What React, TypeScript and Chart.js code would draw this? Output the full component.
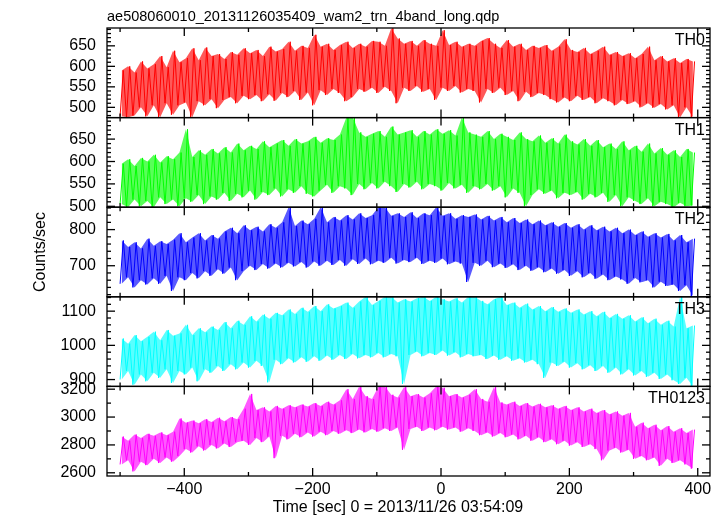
import React, { useEffect, useRef } from "react";
import { Chart, registerables } from "chart.js";

Chart.register(...registerables);

// ---- data (per 10 s bin, the low and high excursion of each light curve) ----
const binStart = -500;
const binWidth = 10;

const panelNames = ["TH0", "TH1", "TH2", "TH3", "TH0123"];

const th0Hi = [590,600,585,612,595,605,625,598,638,610,
  620,644,615,646,625,630,618,635,628,644,
  632,640,625,648,636,642,660,638,650,645,
  677,648,655,640,652,660,645,655,648,662,
  660,650,693,668,655,662,650,664,655,650,
  688,652,660,648,655,650,662,669,655,645,
  664,648,655,640,650,645,652,638,648,666,
  640,635,645,630,638,648,628,635,625,632,
  620,630,648,615,625,612,620,608,618,612];
const th0Lo = [478,476,480,500,478,505,476,510,482,505,
  512,476,515,505,520,498,518,525,510,528,
  520,530,515,532,516,535,525,540,518,536,
  505,542,530,545,535,515,525,545,538,548,
  535,550,540,510,548,540,552,538,545,518,
  548,540,552,536,545,540,512,545,535,548,
  530,540,515,538,525,535,530,520,512,524,
  515,528,518,525,510,522,515,505,518,508,
  515,500,510,499,508,495,505,475,500,476];

const th1Hi = [595,605,590,608,600,615,598,612,605,620,
  672,610,625,615,628,618,632,620,640,625,
  635,628,645,632,640,648,635,650,640,645,
  655,642,652,648,660,698,698,665,655,662,
  668,655,678,660,665,670,655,668,660,672,
  662,670,658,698,665,660,655,668,650,662,
  655,648,665,650,645,658,642,652,640,660,
  645,638,650,635,648,632,640,628,645,625,
  635,622,640,618,630,615,625,610,628,620];
const th1Lo = [505,498,515,500,512,498,520,505,515,500,
  518,510,525,505,522,515,530,512,528,520,
  535,515,532,525,540,522,538,530,545,528,
  522,535,548,530,545,540,525,550,538,552,
  540,555,545,532,550,542,555,538,550,545,
  535,552,540,548,530,545,538,550,535,545,
  520,540,530,500,525,538,528,535,518,530,
  525,532,515,528,520,530,510,525,500,520,
  512,505,518,500,510,505,498,508,500,502];

const th2Hi = [770,752,765,748,775,755,768,760,772,790,
  765,778,790,770,785,775,795,805,790,812,
  798,808,795,815,805,820,862,810,825,815,
  830,862,820,835,825,840,828,845,832,840,
  862,862,838,845,835,848,832,845,840,862,
  838,845,830,840,835,842,828,838,825,835,
  820,832,818,828,815,825,812,820,808,818,
  805,815,800,812,798,808,795,805,790,800,
  785,795,780,790,778,788,770,785,765,775];
const th2Lo = [650,668,640,660,648,665,650,672,630,668,
  660,680,665,685,672,690,678,695,660,685,
  700,688,705,692,706,695,708,698,710,695,
  712,700,714,702,716,700,718,705,720,704,
  714,708,722,706,716,710,722,705,714,708,
  720,704,712,706,655,708,700,714,696,706,
  694,704,688,700,686,696,682,692,678,688,
  672,685,668,680,664,676,660,670,662,650,
  666,654,660,640,656,644,648,630,646,616];

const th3Hi = [1020,1005,1030,1012,1025,1040,1015,1045,1028,1035,
  1060,1030,1050,1038,1055,1045,1068,1050,1072,1060,
  1085,1070,1090,1078,1095,1088,1105,1092,1110,1098,
  1115,1100,1120,1108,1115,1125,1110,1128,1142,1118,
  1130,1142,1142,1125,1135,1128,1138,1142,1130,1142,
  1135,1128,1138,1125,1142,1142,1130,1120,1135,1142,
  1118,1125,1110,1122,1105,1115,1100,1112,1098,1108,
  1095,1105,1090,1100,1085,1098,1080,1092,1078,1088,
  1070,1082,1065,1078,1060,1072,1055,1142,1050,1058];
const th3Lo = [900,925,885,915,895,920,905,930,890,925,
  915,935,895,930,920,940,925,945,930,950,
  935,955,940,892,958,945,962,950,965,952,
  968,955,970,958,972,960,975,962,972,965,
  978,965,975,968,887,972,982,968,978,972,
  985,970,980,965,975,968,972,960,970,958,
  968,955,962,950,958,945,905,950,940,952,
  935,948,930,942,925,940,920,935,915,930,
  912,925,908,920,902,915,898,887,905,880];

const th0123Hi = [2860,2830,2875,2850,2880,2865,2890,2870,2895,2990,
  2960,2975,2955,2985,2965,2995,2970,3000,2985,3060,
  3166,3050,3070,3040,3080,3060,3085,3070,3090,3075,
  3100,3080,3110,3090,3120,3200,3130,3220,3150,3130,
  3220,3220,3160,3140,3215,3150,3165,3140,3170,3220,
  3210,3150,3165,3140,3160,3200,3130,3110,3215,3105,
  3090,3110,3080,3100,3075,3095,3070,3085,3060,3080,
  3050,3070,3040,3060,3030,3050,3020,3040,3010,3030,
  2930,2960,2920,2945,2905,2935,2895,2920,2885,2910];
const th0123Lo = [2660,2690,2610,2680,2655,2700,2670,2710,2680,2720,
  2770,2745,2790,2760,2800,2775,2810,2785,2820,2830,
  2800,2850,2820,2860,2705,2865,2840,2880,2855,2890,
  2860,2895,2870,2900,2880,2905,2885,2910,2890,2915,
  2895,2920,2900,2925,2765,2915,2930,2900,2925,2905,
  2930,2910,2925,2895,2920,2900,2870,2890,2860,2885,
  2855,2875,2840,2865,2830,2855,2820,2840,2805,2830,
  2795,2820,2785,2805,2770,2690,2760,2780,2745,2765,
  2700,2720,2690,2710,2650,2700,2670,2690,2660,2630];

const panelHi = [th0Hi, th1Hi, th2Hi, th3Hi, th0123Hi];
const panelLo = [th0Lo, th1Lo, th2Lo, th3Lo, th0123Lo];

const panelMin = [475, 498, 614, 880, 2577];
const panelMax = [693.5, 698, 862, 1142, 3220];
const yTickValues = [
  [500, 550, 600, 650],
  [500, 550, 600, 650],
  [700, 800],
  [900, 1000, 1100],
  [2600, 2800, 3000, 3200],
];
const yMinorStep = [10, 10, 20, 20, 100];
const yMajorStep = [50, 50, 100, 100, 200];

const xTickValues = [-400, -200, 0, 200, 400];
const xMinorStep = 100;
const xMin = -520.4;
const xMax = 419.1;

const lineColors = ["#ff0000", "#00ff00", "#0000ff", "#00ffff", "#ff00ff"];
const bandColors = [
  "rgba(255,0,0,0.65)",
  "rgba(0,255,0,0.65)",
  "rgba(0,0,255,0.65)",
  "rgba(0,255,255,0.65)",
  "rgba(255,0,255,0.65)",
];

const titleText = "ae508060010_20131126035409_wam2_trn_4band_long.qdp";
const yTitle = "Counts/sec";
const xTitle = "Time [sec] 0 = 2013/11/26 03:54:09";

const FONT = "'Liberation Sans', Arial, Helvetica, sans-serif";
const axisId = (k: number) => "p" + k;

const decorPlugin = {
  id: "decor",
  afterDatasetsDraw(chart: any) {
    const ctx = chart.ctx;
    const ca = chart.chartArea;
    const xs = chart.scales.x;
    ctx.save();
    ctx.strokeStyle = "#000";
    ctx.lineWidth = 1.3;
    const seg = (x1: number, y1: number, x2: number, y2: number) => {
      ctx.beginPath();
      ctx.moveTo(x1, y1);
      ctx.lineTo(x2, y2);
      ctx.stroke();
    };
    for (let k = 0; k < panelNames.length; k++) {
      const s = chart.scales[axisId(k)];
      const top = s.top;
      const bottom = s.bottom;
      ctx.strokeRect(ca.left, top, ca.right - ca.left, bottom - top);
      const step = yMinorStep[k];
      const first = Math.ceil(panelMin[k] / step);
      const last = Math.floor(panelMax[k] / step);
      for (let n = first; n <= last; n++) {
        const v = n * step;
        const y = s.getPixelForValue(v);
        const len = v % yMajorStep[k] === 0 ? 8 : 4;
        seg(ca.left, y, ca.left + len, y);
        seg(ca.right, y, ca.right - len, y);
      }
      for (let v = -500; v <= 400; v += xMinorStep) {
        const x = xs.getPixelForValue(v);
        const len = v % 200 === 0 ? 8 : 4;
        seg(x, top, x, top + len);
        seg(x, bottom, x, bottom - len);
      }
      ctx.fillStyle = "#000";
      ctx.font = "16px " + FONT;
      ctx.textAlign = "right";
      ctx.textBaseline = "alphabetic";
      ctx.fillText(panelNames[k], 705, top + 17);
    }
    // title
    ctx.fillStyle = "#000";
    ctx.font = "14.5px " + FONT;
    ctx.textAlign = "left";
    ctx.textBaseline = "alphabetic";
    ctx.fillText(titleText, 107, 21);
    // x title
    ctx.font = "16px " + FONT;
    ctx.textAlign = "center";
    ctx.fillText(xTitle, 398, 512);
    // y title
    ctx.save();
    ctx.translate(45, (ca.top + ca.bottom) / 2);
    ctx.rotate(-Math.PI / 2);
    ctx.textAlign = "center";
    ctx.textBaseline = "alphabetic";
    ctx.fillText(yTitle, 0, 0);
    ctx.restore();
    ctx.restore();
  },
};

export default function App() {
  const ref = useRef<HTMLCanvasElement | null>(null);

  useEffect(() => {
    const canvas = ref.current;
    if (!canvas) return;

    const datasets: any[] = [];
    for (let k = 0; k < panelNames.length; k++) {
      const hi = panelHi[k];
      const lo = panelLo[k];
      const loPts = lo.map((v, i) => ({ x: binStart + i * binWidth + 2.5, y: v }));
      const hiPts = hi.map((v, i) => ({ x: binStart + i * binWidth + 2.5, y: v }));
      const zig: any[] = [];
      lo.forEach((v, i) => {
        zig.push({ x: binStart + i * binWidth, y: v });
        zig.push({ x: binStart + i * binWidth + 5, y: hi[i] });
      });
      datasets.push({
        label: panelNames[k] + " low",
        data: loPts,
        yAxisID: axisId(k),
        borderWidth: 0,
        borderColor: "rgba(0,0,0,0)",
        pointRadius: 0,
        fill: false,
        order: 2,
      });
      datasets.push({
        label: panelNames[k] + " high",
        data: hiPts,
        yAxisID: axisId(k),
        borderWidth: 0,
        borderColor: "rgba(0,0,0,0)",
        backgroundColor: bandColors[k],
        pointRadius: 0,
        fill: "-1",
        order: 2,
      });
      datasets.push({
        label: panelNames[k],
        data: zig,
        yAxisID: axisId(k),
        borderWidth: 1,
        borderColor: lineColors[k],
        pointRadius: 0,
        fill: false,
        order: 1,
      });
    }

    const scales: any = {
      x: {
        type: "linear",
        position: "bottom",
        min: xMin,
        max: xMax,
        grid: { display: false },
        border: { display: false },
        afterBuildTicks: (s: any) => {
          s.ticks = xTickValues.map((v) => ({ value: v }));
        },
        afterFit: (s: any) => {
          s.height = 40;
        },
        ticks: {
          autoSkip: false,
          maxRotation: 0,
          padding: -4,
          color: "#000",
          font: { family: FONT, size: 16 },
          callback: (v: any) => (Number(v) < 0 ? "\u2212" + Math.abs(Number(v)) : String(v)),
        },
      },
    };
    // bottom panel first so that the stacked axes end up with TH0 on top
    for (let k = panelNames.length - 1; k >= 0; k--) {
      const vals = yTickValues[k];
      scales[axisId(k)] = {
        type: "linear",
        position: "left",
        stack: "panels",
        stackWeight: 1,
        offset: false,
        min: panelMin[k],
        max: panelMax[k],
        grid: { display: false },
        border: { display: false },
        afterBuildTicks: (s: any) => {
          s.ticks = vals.map((v) => ({ value: v }));
        },
        afterFit: (s: any) => {
          s.width = 107;
        },
        ticks: {
          autoSkip: false,
          padding: 3,
          color: "#000",
          font: { family: FONT, size: 16 },
          callback: (v: any) => String(v),
        },
      };
    }

    const chart = new Chart(canvas, {
      type: "line",
      data: { datasets },
      options: {
        responsive: false,
        animation: false,
        devicePixelRatio: 1,
        layout: { padding: { top: 28, right: 13, left: 0, bottom: 0 } },
        plugins: {
          legend: { display: false },
          tooltip: { enabled: false },
          title: { display: false },
        },
        elements: { line: { tension: 0 } },
        scales,
      },
      plugins: [decorPlugin],
    });
    return () => chart.destroy();
  }, []);

  return (
    <div style={{ position: "absolute", left: 0, top: 0, width: 723, height: 516, background: "#fff" }}>
      <canvas ref={ref} width={723} height={516} style={{ display: "block" }} />
    </div>
  );
}
